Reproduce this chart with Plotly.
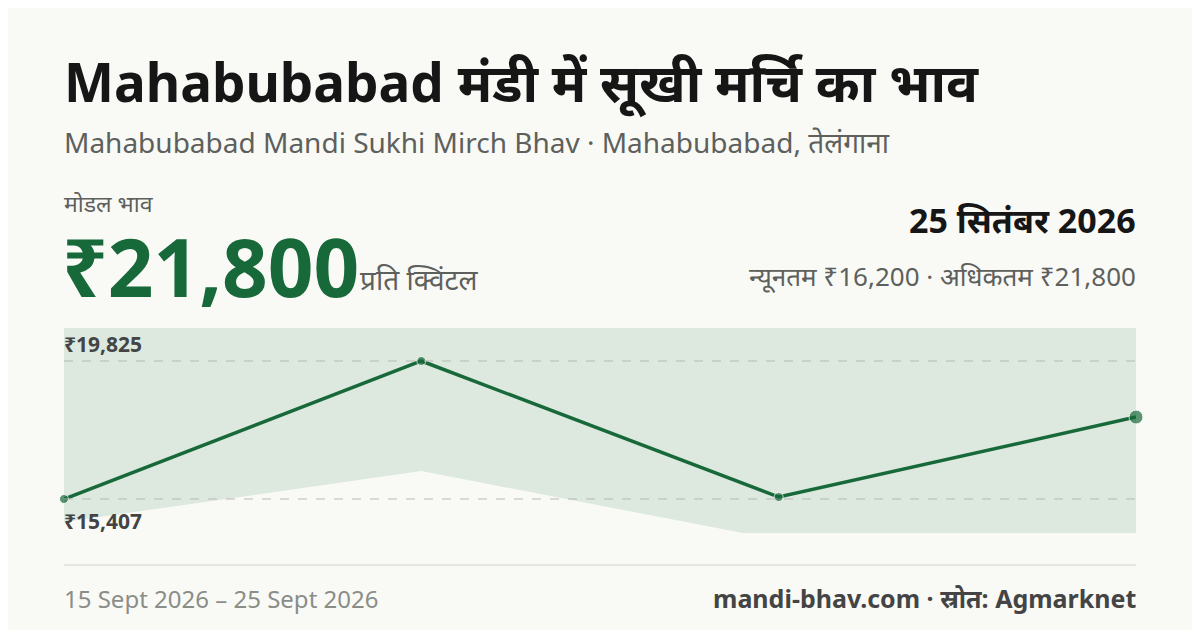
import plotly.graph_objects as go

dates = ["15 Sept", "18 Sept", "22 Sept", "25 Sept"]
modal = [15407, 19825, 15470, 18030]
min_p = [14670, 16300, 14100, 14100]
max_p = [21800, 21800, 21800, 21800]
ref_lines = [19825, 15407]
ref_labels = ["₹19,825", "₹15,407"]

W, H = 1200, 630
OFF = 8  # page body margin
L, R, T, B = 64 - OFF, 64 + OFF, 328 - OFF, 97 + OFF
GREEN = "#17693a"
F = "Noto Sans"

def px(x, y):
    return (x - OFF - L) / (W - L - R), (H - B - (y - OFF)) / (H - T - B)

fig = go.Figure()
fig.add_trace(go.Scatter(x=list(range(4)), y=max_p, mode="lines", line=dict(width=0), hoverinfo="skip"))
fig.add_trace(go.Scatter(x=list(range(4)), y=min_p, mode="lines", line=dict(width=0), fill="tonexty",
                         fillcolor="rgba(23,105,58,0.12)", hoverinfo="skip"))
fig.add_trace(go.Scatter(x=list(range(4)), y=modal, mode="lines+markers", line=dict(color=GREEN, width=3.5),
                         marker=dict(size=[9, 9, 9, 14], color=GREEN), cliponaxis=False))

ann = []
def text(x, y, s, size, color="#1b1b1b", bold=False, xa="left"):
    xp, yp = px(x, y)
    ann.append(dict(x=xp, y=yp, xref="paper", yref="paper", text=f"<b>{s}</b>" if bold else s,
                    showarrow=False, xanchor=xa, yanchor="middle", xshift=-2 if xa == "left" else 2,
                    font=dict(family=F, size=size, color=color)))

text(64, 82, "Mahabubabad मंडी में सूखी मर्चि का भाव", 53, "#161616", True)
text(64, 142, "Mahabubabad Mandi Sukhi Mirch Bhav · Mahabubabad, तेलंगाना", 28, "#5d605c")
text(64, 203, "मोडल भाव", 23, "#5d605c")
text(62, 265, "₹21,800", 80, GREEN, True)
text(360, 279, "प्रति क्विंटल", 28, "#5d605c")
text(1136, 220, "25 सितंबर 2026", 34, "#161616", True, "right")
text(1136, 276, "न्यूनतम ₹16,200 · अधिकतम ₹21,800", 26, "#5d605c", False, "right")
for v, lab, yy in zip(ref_lines, ref_labels, [344, 521]):
    text(64, yy, lab, 21, "#444", True)
text(64, 598, "15 Sept 2026 – 25 Sept 2026", 24, "#8a8d88")
text(1136, 598, "mandi-bhav.com · स्रोत: Agmarknet", 25, "#444", True, "right")

fig.update_layout(
    width=W, height=H, margin=dict(l=L, r=R, t=T, b=B),
    paper_bgcolor="#f9faf6", plot_bgcolor="rgba(0,0,0,0)", showlegend=False,
    xaxis=dict(range=[0, 3], visible=False, fixedrange=True),
    yaxis=dict(range=[14319, 20881], visible=False, fixedrange=True),
    annotations=ann,
)
for v in ref_lines:
    fig.add_shape(type="line", xref="paper", yref="y", x0=0, x1=1, y0=v, y1=v,
                  line=dict(color="#b5b9b3", width=1, dash="dash"))
fig.add_shape(type="rect", xref="paper", yref="paper", x0=-1, x1=2, y0=px(0, 0)[1], y1=px(0, 8)[1],
              fillcolor=GREEN, line=dict(width=0))
fig.add_shape(type="line", xref="paper", yref="paper", x0=0, x1=1, y0=px(0, 565)[1], y1=px(0, 565)[1],
              line=dict(color="#dcdfd9", width=1.5))
fig.write_html("out.html")
